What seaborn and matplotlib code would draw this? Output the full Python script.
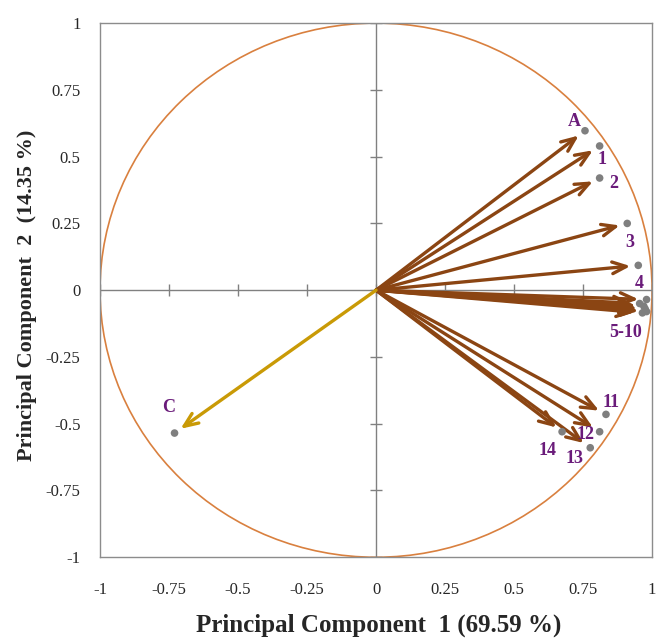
import numpy as np
import pandas as pd
import matplotlib
matplotlib.use("Agg")
import matplotlib.pyplot as plt
from matplotlib.patches import Circle
import seaborn as sns

# loadings
labels = ["A", "1", "2", "3", "4", "5", "6", "7", "8", "9", "10", "11", "12", "13", "14", "C"]
pc1 = [0.757, 0.81, 0.81, 0.91, 0.95, 0.98, 0.955, 0.97, 0.975, 0.965, 0.98, 0.833, 0.81, 0.776, 0.674, -0.73]
pc2 = [0.597, 0.54, 0.42, 0.25, 0.093, -0.035, -0.05, -0.06, -0.07, -0.085, -0.08, -0.465, -0.53, -0.59, -0.53, -0.535]
group = ["var"] * 15 + ["sup"]

ticks = [-1, -0.75, -0.5, -0.25, 0, 0.25, 0.5, 0.75, 1]
tick_labels = ["-1", "-0.75", "-0.5", "-0.25", "0", "0.25", "0.5", "0.75", "1"]

df = pd.DataFrame({"label": labels, "pc1": pc1, "pc2": pc2, "group": group})

sns.set_style("white")
plt.rcParams["font.family"] = ["Liberation Serif", "DejaVu Serif"]

fig = plt.figure(figsize=(6.58, 6.42), dpi=100)
ax = fig.add_axes([0.152, 0.132, 0.839, 0.832])

ax.add_patch(Circle((0, 0), 1, fill=False, edgecolor="#D9803F", lw=1.2, zorder=1))
ax.axhline(0, color="#808080", lw=1, zorder=1)
ax.axvline(0, color="#808080", lw=1, zorder=1)
ax.plot(ticks, [0] * len(ticks), ls="none", marker="|", ms=9, mew=1, color="#808080", zorder=1)
ax.plot([0] * len(ticks), ticks, ls="none", marker="_", ms=9, mew=1, color="#808080", zorder=1)

colors = {"var": "#8B4513", "sup": "#C99A06"}
for _, r in df.iterrows():
    # arrow stops a little short of the point
    ax.annotate("", xy=(r.pc1 * 0.97, r.pc2 * 0.97), xytext=(0, 0),
                arrowprops=dict(arrowstyle="->,head_length=1.0,head_width=0.42",
                                color=colors[r.group], lw=2.4, shrinkA=0, shrinkB=0),
                zorder=2)

sns.scatterplot(data=df, x="pc1", y="pc2", color="#7F7F7F", s=30, edgecolor="none", ax=ax, zorder=3, legend=False)

# text labels: (text, x, y)
txt = [("A", 0.72, 0.63), ("1", 0.82, 0.49), ("2", 0.86, 0.40), ("3", 0.92, 0.18),
       ("4", 0.955, 0.025), ("5-10", 0.905, -0.16), ("11", 0.85, -0.42), ("12", 0.76, -0.54),
       ("13", 0.72, -0.63), ("14", 0.62, -0.60), ("C", -0.75, -0.44)]
for t, x, y in txt:
    ax.text(x, y, t, color="#6A1B7A", fontsize=13, fontweight="bold", ha="center", va="center",
            family=["Liberation Serif", "DejaVu Serif"], zorder=4)

ax.set_xlim(-1, 1)
ax.set_ylim(-1, 1)
ax.set_xticks(ticks)
ax.set_yticks(ticks)
ax.set_xticklabels(tick_labels, fontsize=12)
ax.set_yticklabels(tick_labels, fontsize=12)
ax.tick_params(axis="x", length=0, pad=18)
ax.tick_params(axis="y", length=0, pad=14)
for s in ax.spines.values():
    s.set_color("#8C8C8C")
    s.set_linewidth(1)

ax.set_xlabel("Principal Component  1 (69.59 %)", fontsize=18, fontweight="bold")
ax.set_ylabel("Principal Component  2  (14.35 %)", fontsize=16, fontweight="bold")
ax.xaxis.set_label_coords(0.505, -0.105)
ax.yaxis.set_label_coords(-0.115, 0.49)

fig.savefig("out.png", dpi=100)
